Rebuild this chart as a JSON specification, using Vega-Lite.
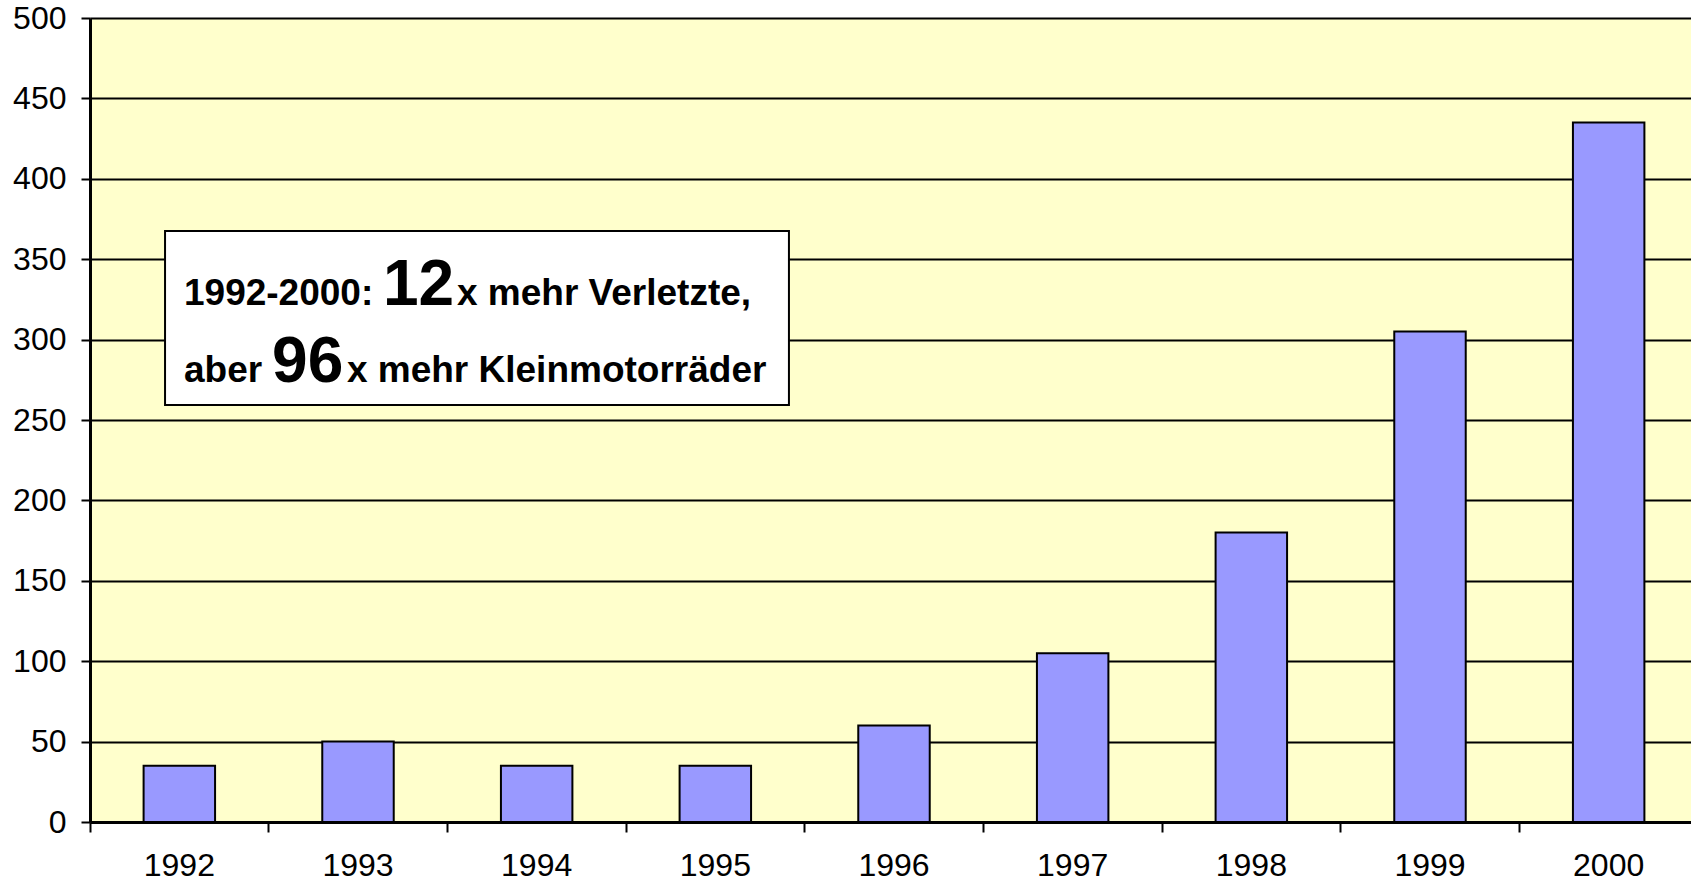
{
  "$schema": "https://vega.github.io/schema/vega-lite/v6.json",
  "width": 1601,
  "height": 804,
  "autosize": {"type": "none"},
  "padding": {"left": 90, "top": 18, "right": 0, "bottom": 60},
  "background": "white",
  "config": {
    "view": {"fill": "#FFFFCC", "stroke": null},
    "font": "Liberation Sans",
    "axis": {
      "domainColor": "black",
      "domainWidth": 3,
      "tickColor": "black",
      "tickWidth": 2,
      "labelColor": "black",
      "labelFont": "Liberation Sans",
      "labelFontSize": 32,
      "labelFontWeight": "normal",
      "title": null
    },
    "axisY": {
      "grid": true,
      "gridColor": "black",
      "gridWidth": 2,
      "gridOpacity": 1,
      "tickSize": 9,
      "labelPadding": 15
    },
    "axisX": {
      "grid": false,
      "tickSize": 10,
      "labelPadding": 18,
      "labelAngle": 0
    }
  },
  "layer": [
    {
      "data": {
        "values": [
          {"Jahr": "1992", "Wert": 35},
          {"Jahr": "1993", "Wert": 50},
          {"Jahr": "1994", "Wert": 35},
          {"Jahr": "1995", "Wert": 35},
          {"Jahr": "1996", "Wert": 60},
          {"Jahr": "1997", "Wert": 105},
          {"Jahr": "1998", "Wert": 180},
          {"Jahr": "1999", "Wert": 305},
          {"Jahr": "2000", "Wert": 435}
        ]
      },
      "mark": {"type": "bar", "width": {"band": 0.4}, "fill": "#9999FF", "stroke": "black", "strokeWidth": 2},
      "encoding": {
        "x": {
          "field": "Jahr",
          "type": "nominal",
          "sort": null,
          "scale": {"range": [0, 1608], "paddingInner": 0, "paddingOuter": 0},
          "axis": {"bandPosition": 0, "title": null}
        },
        "y": {
          "field": "Wert",
          "type": "quantitative",
          "scale": {"domain": [0, 500], "nice": false},
          "axis": {"values": [0, 50, 100, 150, 200, 250, 300, 350, 400, 450, 500], "title": null}
        }
      }
    },
    {
      "data": {"values": [{"x1": 0.42, "x2": 3.912, "y1": 259.3, "y2": 367.5}]},
      "mark": {"type": "rect", "fill": "white", "stroke": "black", "strokeWidth": 2},
      "encoding": {
        "x": {"field": "x1", "type": "quantitative", "scale": {"domain": [0, 9], "range": [0, 1608], "nice": false, "zero": false}, "axis": null},
        "x2": {"field": "x2"},
        "y": {"field": "y1", "type": "quantitative", "title": null},
        "y2": {"field": "y2"}
      }
    },
    {
      "data": {
        "values": [
          {"t": "1992-2000:", "x": 0.526, "y": 321.5},
          {"t": "x mehr Verletzte,", "x": 2.054, "y": 321.5},
          {"t": "aber", "x": 0.526, "y": 273.6},
          {"t": "x mehr Kleinmotorräder", "x": 1.438, "y": 273.6}
        ]
      },
      "mark": {"type": "text", "align": "left", "baseline": "alphabetic", "font": "Liberation Sans", "fontWeight": "bold", "fontSize": 37, "color": "black"},
      "encoding": {
        "x": {"field": "x", "type": "quantitative", "scale": {"domain": [0, 9], "range": [0, 1608], "nice": false, "zero": false}, "axis": null},
        "y": {"field": "y", "type": "quantitative", "title": null},
        "text": {"field": "t"}
      }
    },
    {
      "data": {
        "values": [
          {"t": "12", "x": 1.64, "y": 321.5},
          {"t": "96", "x": 1.019, "y": 273.6}
        ]
      },
      "mark": {"type": "text", "align": "left", "baseline": "alphabetic", "font": "Liberation Sans", "fontWeight": "bold", "fontSize": 64, "color": "black"},
      "encoding": {
        "x": {"field": "x", "type": "quantitative", "scale": {"domain": [0, 9], "range": [0, 1608], "nice": false, "zero": false}, "axis": null},
        "y": {"field": "y", "type": "quantitative", "title": null},
        "text": {"field": "t"}
      }
    }
  ],
  "resolve": {"scale": {"x": "independent"}}
}
